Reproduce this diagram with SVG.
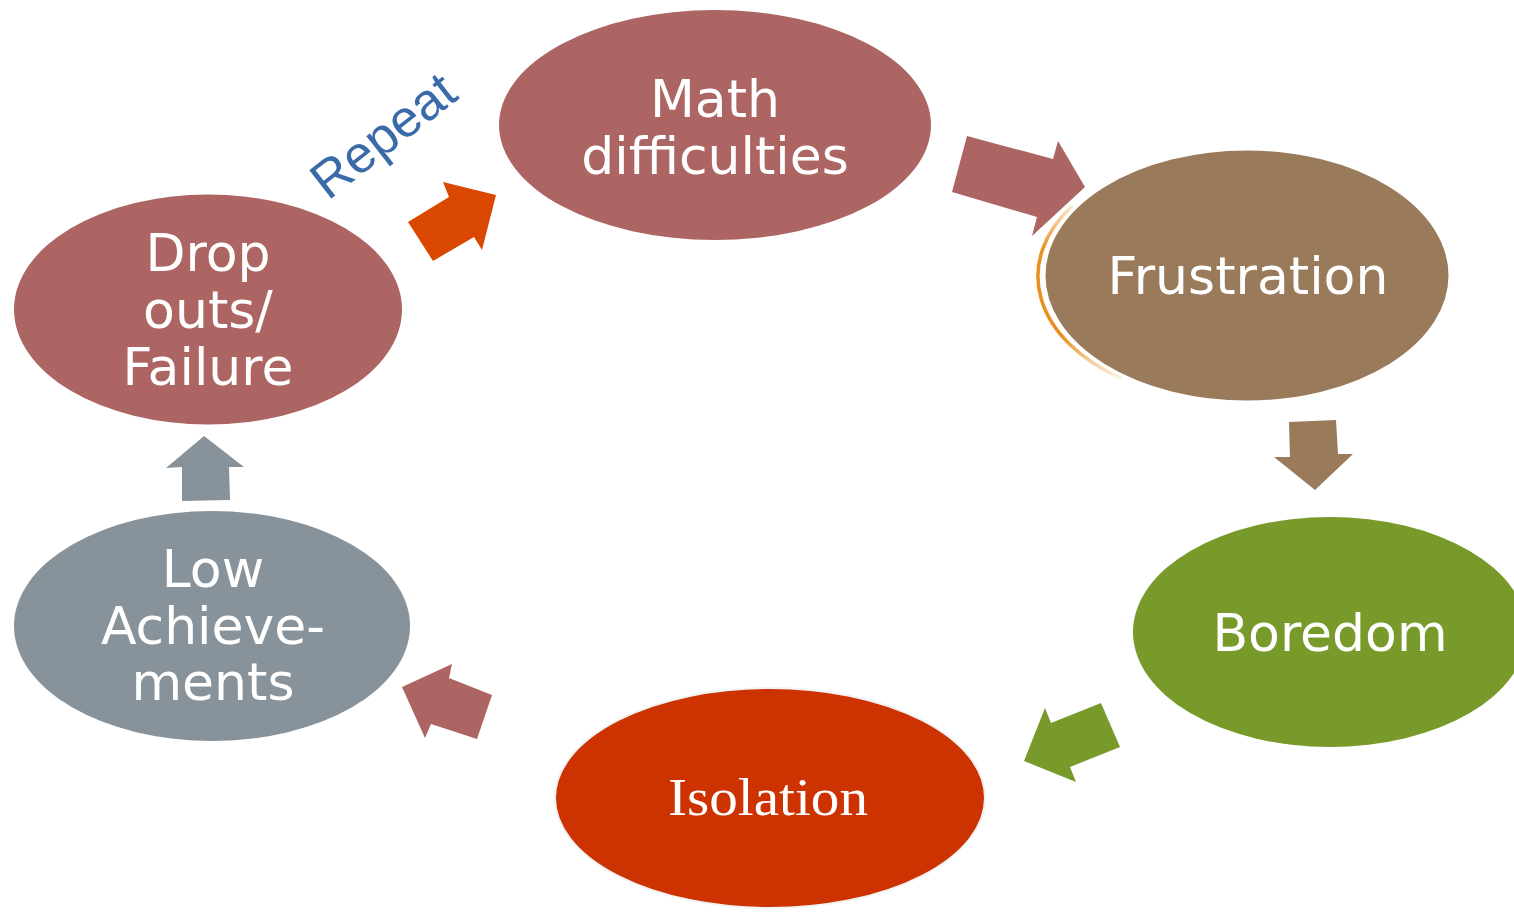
<svg xmlns="http://www.w3.org/2000/svg" width="1514" height="915" viewBox="0 0 1514 915">
<style>
.t{font-family:"DejaVu Sans","Verdana",sans-serif;font-size:52px;fill:#ffffff;text-anchor:middle}
.s{font-family:"Liberation Serif","DejaVu Serif",serif;font-size:53px;fill:#ffffff;text-anchor:middle}
</style>
<defs>
<linearGradient id="og" x1="0" y1="0" x2="0" y2="1">
<stop offset="0" stop-color="#E8901E" stop-opacity="0.2"/>
<stop offset="0.25" stop-color="#E8901E" stop-opacity="1"/>
<stop offset="0.75" stop-color="#E8901E" stop-opacity="1"/>
<stop offset="1" stop-color="#E8901E" stop-opacity="0.1"/>
</linearGradient>
</defs>
<rect width="1514" height="915" fill="#ffffff"/>
<g id="connectors">
<polygon points="967,136 1053,159 1058,141 1085,187 1032,236 1037,217 952,192" fill="#AC6562"/>
<polygon points="1289,422 1336,420 1338,454 1353,454 1315,490 1274,457 1290,457" fill="#997A5A"/>
<polygon points="1101,703 1120,747 1070,767 1076,782 1024,761 1045,708 1051,723" fill="#789A2A"/>
<polygon points="492,695 477,739 431,724 425,738 402,687 452,664 449,678" fill="#AC6562"/>
<polygon points="204,436 244,467 229,467 230,500 182,501 182,467 166,468" fill="#87929A"/>
<polygon points="408,222 433,261 474,237 482,250 496,195 443,182 449,197" fill="#DA4700"/>
</g>
<g id="node-math">
<ellipse cx="715" cy="125" rx="216" ry="115" fill="#AC6562"/>
<text class="t" x="715" y="117">Math</text>
<text class="t" x="715" y="174">difficulties</text>
</g>
<g id="node-frustration">
<path d="M1072,206 A204,127 0 0 0 1122,379" fill="none" stroke="url(#og)" stroke-width="3.5"/>
<ellipse cx="1247" cy="275.5" rx="203" ry="126.5" fill="#997A5A" stroke="#ffffff" stroke-width="3"/>
<text class="t" x="1248" y="294">Frustration</text>
</g>
<g id="node-boredom">
<ellipse cx="1330" cy="632" rx="197" ry="115" fill="#789A2A"/>
<text class="t" x="1330" y="651">Boredom</text>
</g>
<g id="node-isolation">
<ellipse cx="770" cy="798" rx="215" ry="110" fill="#CC3300" stroke="#f2f2f2" stroke-width="2"/>
<text class="s" x="768" y="815" textLength="200" lengthAdjust="spacingAndGlyphs">Isolation</text>
</g>
<g id="node-low">
<ellipse cx="212" cy="626" rx="198" ry="115" fill="#87929A"/>
<text class="t" x="213" y="587">Low</text>
<text class="t" x="213" y="644">Achieve-</text>
<text class="t" x="213" y="700">ments</text>
</g>
<g id="node-dropouts">
<ellipse cx="208" cy="309.5" rx="194" ry="115" fill="#AC6562"/>
<text class="t" x="208" y="271">Drop</text>
<text class="t" x="208" y="328">outs/</text>
<text class="t" x="208" y="385">Failure</text>
</g>
<g id="label-repeat">
<text x="328" y="201" transform="rotate(-38 328 201)" font-family="'Liberation Sans', Arial, sans-serif" font-size="52" fill="#3A6AA8">Repeat</text>
</g>
</svg>
